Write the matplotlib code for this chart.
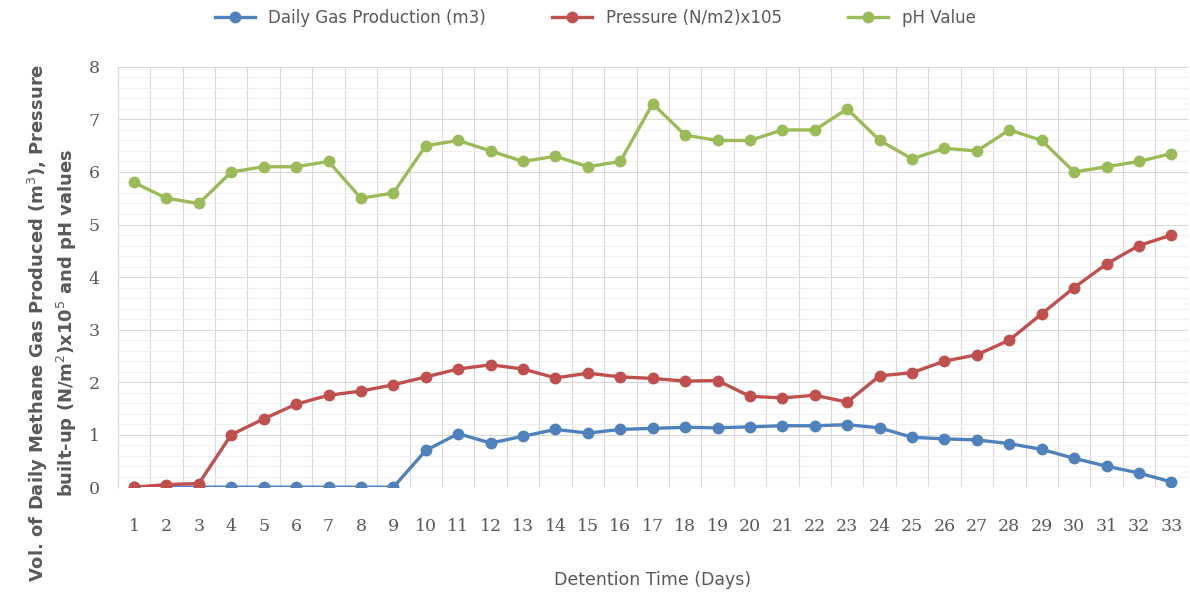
import numpy as np
import matplotlib.pyplot as plt
from matplotlib.ticker import MultipleLocator

days = list(range(1, 34))
gas = [0, 0, 0, 0, 0, 0, 0, 0, 0, 0.7, 1.02, 0.84, 0.97, 1.1, 1.03, 1.1, 1.12,
       1.14, 1.13, 1.15, 1.17, 1.17, 1.19, 1.13, 0.95, 0.92, 0.9, 0.83, 0.72,
       0.55, 0.4, 0.27, 0.1]
pressure = [0, 0.05, 0.07, 1.0, 1.3, 1.58, 1.75, 1.83, 1.95, 2.1, 2.25, 2.33,
            2.25, 2.08, 2.17, 2.1, 2.07, 2.02, 2.03, 1.73, 1.7, 1.75, 1.62,
            2.12, 2.18, 2.4, 2.52, 2.8, 3.3, 3.8, 4.25, 4.6, 4.8]
ph = [5.8, 5.5, 5.4, 6.0, 6.1, 6.1, 6.2, 5.5, 5.6, 6.5, 6.6, 6.4, 6.2, 6.3,
      6.1, 6.2, 7.3, 6.7, 6.6, 6.6, 6.8, 6.8, 7.2, 6.6, 6.25, 6.45, 6.4, 6.8,
      6.6, 6.0, 6.1, 6.2, 6.35]

labels = ["Daily Gas Production (m3)", "Pressure (N/m2)x105", "pH Value"]
colors = ["#4F81BD", "#C0504D", "#9BBB59"]

fig = plt.figure(figsize=(11.9, 5.92), dpi=100)
ax = fig.add_axes([0.099, 0.177, 0.899, 0.71])

for series, lab, c in zip([gas, pressure, ph], labels, colors):
    ax.plot(days, series, '-o', color=c, lw=2.4, ms=7.5, label=lab)

ax.set_xlim(0.5, 33.5)
ax.set_ylim(0, 8)
ax.set_xticks(days)
ax.set_xticks(np.arange(0.5, 34, 1), minor=True)
ax.yaxis.set_major_locator(MultipleLocator(1))
ax.yaxis.set_minor_locator(MultipleLocator(0.2))
ax.grid(axis='x', which='minor', color='#d9d9d9', lw=0.8)
ax.grid(axis='y', which='major', color='#d9d9d9', lw=0.8)
ax.grid(axis='y', which='minor', color='#eeeeee', lw=0.6)
ax.set_axisbelow(True)
for s in ['top', 'right', 'bottom']:
    ax.spines[s].set_visible(False)
ax.spines['left'].set_color('#d9d9d9')
ax.tick_params(which='both', length=0)
ax.tick_params(axis='y', labelsize=12.5, labelcolor='#595959', pad=13)
ax.tick_params(axis='x', labelsize=12.5, labelcolor='#595959', pad=22)
for t in ax.get_xticklabels() + ax.get_yticklabels():
    t.set_family('DejaVu Serif')

ax.set_xlabel("Detention Time (Days)", fontsize=12.5, color='#595959',
              labelpad=26)
fig.text(0.044, 0.455, "Vol. of Daily Methane Gas Produced (m$^3$), Pressure\n"
         "built-up (N/m$^2$)x10$^5$ and pH values",
         rotation=90, ha='center', va='center', fontsize=13, color='#595959',
         weight='bold', linespacing=1.3)

fig.legend(loc='upper center', bbox_to_anchor=(0.5, 1.01), ncol=3,
           frameon=False, columnspacing=4, handlelength=2.4,
           labelcolor='#595959', prop={'size': 12})

fig.savefig("out.png", dpi=100)
